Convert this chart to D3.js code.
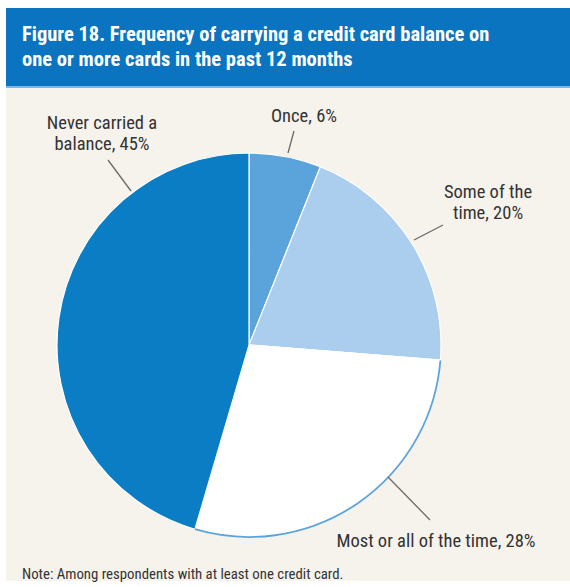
<!DOCTYPE html>
<html>
<head>
<meta charset="utf-8">
<script src="https://cdn.jsdelivr.net/npm/d3@7/dist/d3.min.js"></script>
<style>
  html, body { margin: 0; padding: 0; background: #ffffff; }
  svg { display: block; }
  .narrow { font-family: "Liberation Sans Narrow", "Arial Narrow", "Roboto Condensed", sans-serif; }
</style>
</head>
<body>
<div id="chart"></div>
<script>
// Share of respondents by how often they carried a balance
const categories = ["Once", "Some of the time", "Most or all of the time", "Never carried a balance"];
const values = [6, 20, 28, 45];
const labelLines = [
  ["Once, 6%"],
  ["Some of the", "time, 20%"],
  ["Most or all of the time, 28%"],
  ["Never carried a", "balance, 45%"]
];
const fills = ["#5ba4db", "#abcdee", "#ffffff", "#0a7dc5"];

const W = 570, H = 587;
const svg = d3.select("#chart").append("svg").attr("width", W).attr("height", H);

// panel background and title bar
svg.append("rect").attr("x", 6).attr("y", 88).attr("width", W - 6).attr("height", H - 88 - 6).attr("fill", "#f6f2ec");
svg.append("rect").attr("x", 6).attr("y", 8).attr("width", W - 6).attr("height", 80).attr("fill", "#0a74c0");
svg.append("rect").attr("x", 6).attr("y", 86).attr("width", W - 6).attr("height", 2).attr("fill", "#7fb7e2");

const title = svg.append("text").attr("class", "narrow")
  .attr("fill", "#ffffff").attr("font-weight", "bold").attr("font-size", 20.5);
title.append("tspan").attr("x", 22).attr("y", 41).text("Figure 18. Frequency of carrying a credit card balance on");
title.append("tspan").attr("x", 22).attr("y", 66).text("one or more cards in the past 12 months");

// pie
const cx = 249, cy = 345, R = 192;
const pie = d3.pie().sort(null).value(d => d);
const arcs = pie(values);
const arc = d3.arc().innerRadius(0).outerRadius(R);
const g = svg.append("g").attr("transform", `translate(${cx},${cy})`);

g.selectAll("path.slice").data(arcs).join("path")
  .attr("class", "slice")
  .attr("d", arc)
  .attr("fill", (d, i) => fills[i])
  .attr("stroke", "#ffffff")
  .attr("stroke-width", 1.2);

// outline on the white slice's rim
const rim = arcs[2];
g.append("path")
  .attr("d", d3.arc().innerRadius(R).outerRadius(R)({startAngle: rim.startAngle, endAngle: rim.endAngle}))
  .attr("fill", "none").attr("stroke", "#5ba4db").attr("stroke-width", 1.8);
g.append("line")
  .attr("x1", 0).attr("y1", 0)
  .attr("x2", R * Math.sin(rim.startAngle)).attr("y2", -R * Math.cos(rim.startAngle))
  .attr("stroke", "#ffffff").attr("stroke-width", 1.2);

// label placement: text anchor point and leader line ends
const labelPos = [
  { x: 304, y: 122, anchor: "middle", line: [[294, 131], [288, 153]] },
  { x: 488, y: 198, anchor: "middle", line: [[443, 225], [414, 240]] },
  { x: 436, y: 547, anchor: "middle", line: [[388, 477], [430, 520]] },
  { x: 102, y: 129, anchor: "middle", line: [[108, 160], [131, 191]] }
];

labelPos.forEach((p, i) => {
  svg.append("line")
    .attr("x1", p.line[0][0]).attr("y1", p.line[0][1])
    .attr("x2", p.line[1][0]).attr("y2", p.line[1][1])
    .attr("stroke", "#6b6b6b").attr("stroke-width", 1.3);
  const t = svg.append("text").attr("class", "narrow")
    .attr("text-anchor", p.anchor).attr("font-size", 18.5).attr("fill", "#333333");
  labelLines[i].forEach((s, k) => {
    t.append("tspan").attr("x", p.x).attr("y", p.y + k * 21).text(s);
  });
});

svg.append("text").attr("class", "narrow")
  .attr("x", 22).attr("y", 579).attr("font-size", 14.8).attr("fill", "#333333")
  .text("Note: Among respondents with at least one credit card.");
</script>
</body>
</html>
